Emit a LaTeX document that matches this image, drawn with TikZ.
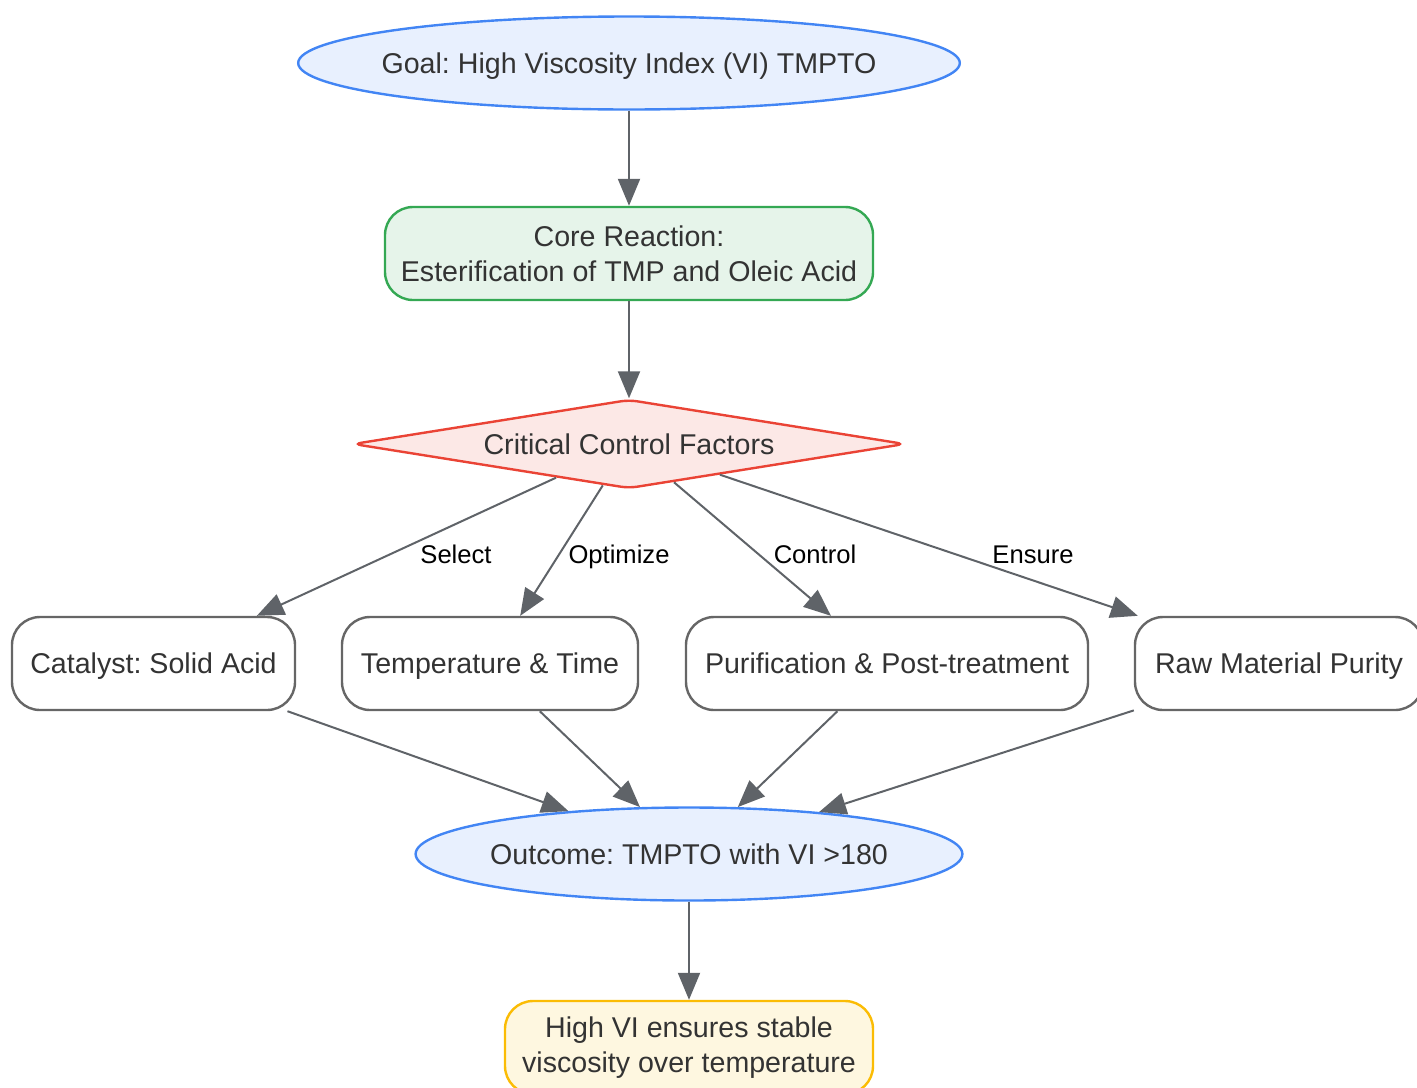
\documentclass[tikz,border=0pt]{standalone}
\usepackage{fontspec}
\setmainfont{Liberation Sans}
\frenchspacing
\usetikzlibrary{positioning,shapes.geometric,arrows.meta}
\definecolor{txtgray}{HTML}{333333}
\definecolor{edgegray}{HTML}{5F6368}
\definecolor{boxgray}{HTML}{666666}
\definecolor{blueline}{HTML}{4285F4}
\definecolor{bluefill}{HTML}{E8F0FE}
\definecolor{greenline}{HTML}{34A853}
\definecolor{greenfill}{HTML}{E6F4EA}
\definecolor{redline}{HTML}{EA4335}
\definecolor{redfill}{HTML}{FCE8E6}
\definecolor{yellowline}{HTML}{FBBC04}
\definecolor{yellowfill}{HTML}{FEF7E0}

\begin{document}
\begin{tikzpicture}[x=0.5pt,y=-0.5pt,
    every node/.style={font=\fontsize{14.3}{17.5}\selectfont, text=txtgray, align=center, line width=1.2pt},
    oneline/.style={text height=10.2pt, text depth=0pt},
    oval/.style={ellipse, oneline, draw=blueline, fill=bluefill, inner ysep=0pt, minimum height=46.5pt},
    roundbox/.style={rectangle, rounded corners=14pt, draw=boxgray, fill=white, minimum height=46.5pt},
    decision/.style={diamond, oneline, aspect=6, inner sep=0pt, rounded corners=4pt, draw=redline, fill=redfill,
                     minimum width=276pt, minimum height=44.5pt},
    lbl/.style={font=\fontsize{12.8}{15}\selectfont, text=black, text height=9pt, text depth=0pt},
    flow/.style={draw=edgegray, line width=1pt, -{Triangle[length=13.5pt,width=11pt]}}]
    \useasboundingbox (0,0) rectangle (1417,1087);

    \node[oval, inner xsep=-6.75pt] (goal) at (629,63) {Goal: High Viscosity Index (VI) TMPTO};
    \node[roundbox, draw=greenline, fill=greenfill, minimum width=244pt] (core) at (629,253.5)
        {Core Reaction:\\Esterification of TMP and Oleic Acid};
    \node[decision] (crit) at (629,444) {Critical Control Factors};

    \node[roundbox, oneline, minimum width=141.5pt] (cat) at (153.5,663.5) {Catalyst: Solid Acid};
    \node[roundbox, oneline, minimum width=148pt] (temp) at (490,663.5) {Temperature \& Time};
    \node[roundbox, oneline, minimum width=201pt] (pur) at (887,663.5) {Purification \& Post-treatment};
    \node[roundbox, oneline, minimum width=144pt] (raw) at (1279,663.5) {Raw Material Purity};

    \node[oval, inner xsep=-2.75pt] (out) at (689,854) {Outcome: TMPTO with VI >180};
    \node[roundbox, draw=yellowline, fill=yellowfill, minimum width=184pt] (high) at (689,1047.5)
        {High VI ensures stable\\viscosity over temperature};

    % edges
    \draw[flow] (goal) -- (core);
    \draw[flow] (core) -- (crit);
    \draw[flow] (crit) -- (cat);
    \draw[flow] (crit) -- (temp);
    \draw[flow] (crit) -- (pur);
    \draw[flow] (crit) -- (raw);
    \node[lbl] (selectlbl) at (456,554) {Select};
    \node[lbl] (optimizelbl) at (619,554) {Optimize};
    \node[lbl] (controllbl) at (815,554) {Control};
    \node[lbl] (ensurelbl) at (1033,554) {Ensure};
    \foreach \f in {cat,temp,pur,raw}
        \draw[flow] (\f) -- (out);
    \draw[flow] (out) -- (high);
\end{tikzpicture}
\end{document}
